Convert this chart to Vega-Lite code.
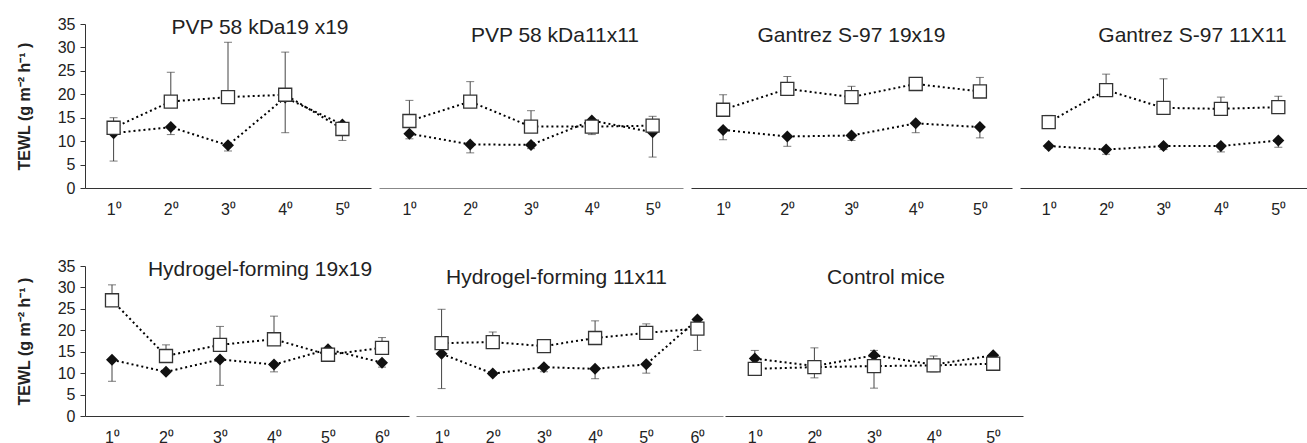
{
  "$schema": "https://vega.github.io/schema/vega-lite/v6.json",
  "padding": {"left": 16, "top": 16, "right": 0, "bottom": 0},
  "config": {
    "font": "Liberation Sans",
    "view": {"stroke": null},
    "axis": {"grid": false, "labelFont": "Liberation Sans", "labelColor": "#222", "domainColor": "#333", "tickColor": "#333"},
    "title": {"font": "Liberation Sans", "fontSize": 21, "fontWeight": "normal", "color": "#222", "anchor": "middle", "baseline": "bottom", "offset": -22}
  },
  "datasets": {
    "d": [
      {"p":"P1","day":"1⁰","s":"A","v":11.7,"e":5.75},
      {"p":"P1","day":"2⁰","s":"A","v":13.0,"e":11.4},
      {"p":"P1","day":"3⁰","s":"A","v":9.1,"e":7.9},
      {"p":"P1","day":"4⁰","s":"A","v":19.3,"e":11.8},
      {"p":"P1","day":"5⁰","s":"A","v":13.55,"e":10.15},
      {"p":"P1","day":"1⁰","s":"B","v":12.85,"e":15.0},
      {"p":"P1","day":"2⁰","s":"B","v":18.45,"e":24.7},
      {"p":"P1","day":"3⁰","s":"B","v":19.4,"e":31.1},
      {"p":"P1","day":"4⁰","s":"B","v":19.9,"e":29.0},
      {"p":"P1","day":"5⁰","s":"B","v":12.6,"e":13.4},
      {"p":"P2","day":"1⁰","s":"A","v":11.6,"e":10.5},
      {"p":"P2","day":"2⁰","s":"A","v":9.3,"e":7.5},
      {"p":"P2","day":"3⁰","s":"A","v":9.2,"e":8.4},
      {"p":"P2","day":"4⁰","s":"A","v":14.4,"e":11.4},
      {"p":"P2","day":"5⁰","s":"A","v":11.9,"e":6.6},
      {"p":"P2","day":"1⁰","s":"B","v":14.3,"e":18.7},
      {"p":"P2","day":"2⁰","s":"B","v":18.45,"e":22.7},
      {"p":"P2","day":"3⁰","s":"B","v":13.1,"e":16.5},
      {"p":"P2","day":"4⁰","s":"B","v":13.1,"e":14.0},
      {"p":"P2","day":"5⁰","s":"B","v":13.3,"e":15.3},
      {"p":"P3","day":"1⁰","s":"A","v":12.4,"e":10.3},
      {"p":"P3","day":"2⁰","s":"A","v":11.0,"e":8.9},
      {"p":"P3","day":"3⁰","s":"A","v":11.2,"e":10.15},
      {"p":"P3","day":"4⁰","s":"A","v":13.8,"e":11.8},
      {"p":"P3","day":"5⁰","s":"A","v":13.0,"e":10.7},
      {"p":"P3","day":"1⁰","s":"B","v":16.7,"e":19.9},
      {"p":"P3","day":"2⁰","s":"B","v":21.15,"e":23.8},
      {"p":"P3","day":"3⁰","s":"B","v":19.4,"e":21.7},
      {"p":"P3","day":"4⁰","s":"B","v":22.2,"e":22.4},
      {"p":"P3","day":"5⁰","s":"B","v":20.6,"e":23.6},
      {"p":"P4","day":"1⁰","s":"A","v":8.95,"e":8.5},
      {"p":"P4","day":"2⁰","s":"A","v":8.2,"e":7.2},
      {"p":"P4","day":"3⁰","s":"A","v":8.95,"e":8.2},
      {"p":"P4","day":"4⁰","s":"A","v":8.95,"e":7.7},
      {"p":"P4","day":"5⁰","s":"A","v":10.15,"e":8.7},
      {"p":"P4","day":"1⁰","s":"B","v":14.05,"e":15.5},
      {"p":"P4","day":"2⁰","s":"B","v":20.9,"e":24.3},
      {"p":"P4","day":"3⁰","s":"B","v":17.1,"e":23.3},
      {"p":"P4","day":"4⁰","s":"B","v":16.9,"e":19.4},
      {"p":"P4","day":"5⁰","s":"B","v":17.25,"e":19.6},
      {"p":"P5","day":"1⁰","s":"A","v":13.1,"e":8.1},
      {"p":"P5","day":"2⁰","s":"A","v":10.3,"e":10.0},
      {"p":"P5","day":"3⁰","s":"A","v":13.2,"e":7.15},
      {"p":"P5","day":"4⁰","s":"A","v":12.0,"e":10.3},
      {"p":"P5","day":"5⁰","s":"A","v":15.55,"e":15.0},
      {"p":"P5","day":"6⁰","s":"A","v":12.45,"e":11.4},
      {"p":"P5","day":"1⁰","s":"B","v":27.0,"e":30.6},
      {"p":"P5","day":"2⁰","s":"B","v":14.0,"e":16.6},
      {"p":"P5","day":"3⁰","s":"B","v":16.6,"e":20.9},
      {"p":"P5","day":"4⁰","s":"B","v":17.9,"e":23.3},
      {"p":"P5","day":"5⁰","s":"B","v":14.3,"e":14.8},
      {"p":"P5","day":"6⁰","s":"B","v":15.9,"e":18.3},
      {"p":"P6","day":"1⁰","s":"A","v":14.5,"e":6.4},
      {"p":"P6","day":"2⁰","s":"A","v":9.9,"e":9.5},
      {"p":"P6","day":"3⁰","s":"A","v":11.4,"e":10.3},
      {"p":"P6","day":"4⁰","s":"A","v":11.0,"e":8.7},
      {"p":"P6","day":"5⁰","s":"A","v":12.05,"e":10.0},
      {"p":"P6","day":"6⁰","s":"A","v":22.5,"e":15.3},
      {"p":"P6","day":"1⁰","s":"B","v":17.0,"e":24.9},
      {"p":"P6","day":"2⁰","s":"B","v":17.25,"e":19.6},
      {"p":"P6","day":"3⁰","s":"B","v":16.3,"e":16.8},
      {"p":"P6","day":"4⁰","s":"B","v":18.2,"e":22.2},
      {"p":"P6","day":"5⁰","s":"B","v":19.4,"e":21.5},
      {"p":"P6","day":"6⁰","s":"B","v":20.4,"e":20.8},
      {"p":"P7","day":"1⁰","s":"A","v":13.4,"e":12.5},
      {"p":"P7","day":"2⁰","s":"A","v":11.65,"e":8.9},
      {"p":"P7","day":"3⁰","s":"A","v":14.15,"e":6.5},
      {"p":"P7","day":"4⁰","s":"A","v":12.0,"e":10.3},
      {"p":"P7","day":"5⁰","s":"A","v":14.15,"e":13.5},
      {"p":"P7","day":"1⁰","s":"B","v":11.0,"e":15.3},
      {"p":"P7","day":"2⁰","s":"B","v":11.4,"e":15.9},
      {"p":"P7","day":"3⁰","s":"B","v":11.65,"e":15.3},
      {"p":"P7","day":"4⁰","s":"B","v":11.8,"e":14.0},
      {"p":"P7","day":"5⁰","s":"B","v":12.2,"e":13.0}
    ]
  },
  "spacing": 41,
  "vconcat": [
    {
      "spacing": 8,
      "hconcat": [
        {
          "width": 286, "height": 164,
          "title": {"text": "PVP 58 kDa19 x19", "dx": 32},
          "data": {"name": "d"},
          "transform": [{"filter": "datum.p == 'P1'"}],
          "encoding": {
            "x": {"field": "day", "type": "ordinal", "scale": {"type": "point", "padding": 0.5}, "axis": {"title": null, "ticks": false, "labelAngle": 0, "labelFontSize": 16, "labelPadding": 13, "domainColor": "#333"}},
            "y": {"field": "v", "type": "quantitative", "scale": {"domain": [0, 35], "nice": false}, "axis": {"values": [0,5,10,15,20,25,30,35], "tickSize": 5, "labelFontSize": 16, "labelPadding": 5, "title": "TEWL (g m⁻² h⁻¹ )", "titleFontSize": 16, "titleFontWeight": "bold", "titleColor": "#222", "titlePadding": 25}}
          },
          "layer": [
            {"mark": {"type": "line", "color": "black", "strokeWidth": 2, "strokeDash": [2, 3]}, "encoding": {"detail": {"field": "s"}}},
            {"mark": {"type": "rule", "color": "#444", "strokeWidth": 1}, "encoding": {"y2": {"field": "e"}}},
            {"mark": {"type": "tick", "color": "#444", "size": 8, "thickness": 1}, "encoding": {"y": {"field": "e", "type": "quantitative"}}},
            {"transform": [{"filter": "datum.s == 'A'"}], "mark": {"type": "point", "shape": "diamond", "filled": true, "color": "#111", "size": 144, "opacity": 1}},
            {"transform": [{"filter": "datum.s == 'B'"}], "mark": {"type": "point", "shape": "square", "filled": true, "fill": "white", "stroke": "#333", "strokeWidth": 1.3, "size": 170, "opacity": 1}}
          ]
        },
        {
          "width": 304, "height": 164,
          "title": {"text": "PVP 58 kDa11x11", "dx": 24},
          "data": {"name": "d"},
          "transform": [{"filter": "datum.p == 'P2'"}],
          "encoding": {
            "x": {"field": "day", "type": "ordinal", "scale": {"type": "point", "padding": 0.5}, "axis": {"title": null, "ticks": false, "labelAngle": 0, "labelFontSize": 16, "labelPadding": 13, "domainColor": "#888"}},
            "y": {"field": "v", "type": "quantitative", "scale": {"domain": [0, 35], "nice": false}, "axis": null}
          },
          "layer": [
            {"mark": {"type": "line", "color": "black", "strokeWidth": 2, "strokeDash": [2, 3]}, "encoding": {"detail": {"field": "s"}}},
            {"mark": {"type": "rule", "color": "#444", "strokeWidth": 1}, "encoding": {"y2": {"field": "e"}}},
            {"mark": {"type": "tick", "color": "#444", "size": 8, "thickness": 1}, "encoding": {"y": {"field": "e", "type": "quantitative"}}},
            {"transform": [{"filter": "datum.s == 'A'"}], "mark": {"type": "point", "shape": "diamond", "filled": true, "color": "#111", "size": 144, "opacity": 1}},
            {"transform": [{"filter": "datum.s == 'B'"}], "mark": {"type": "point", "shape": "square", "filled": true, "fill": "white", "stroke": "#333", "strokeWidth": 1.3, "size": 170, "opacity": 1}}
          ]
        },
        {
          "width": 321, "height": 164,
          "title": {"text": "Gantrez S-97 19x19", "dx": 0},
          "data": {"name": "d"},
          "transform": [{"filter": "datum.p == 'P3'"}],
          "encoding": {
            "x": {"field": "day", "type": "ordinal", "scale": {"type": "point", "padding": 0.5}, "axis": {"title": null, "ticks": false, "labelAngle": 0, "labelFontSize": 16, "labelPadding": 13, "domainColor": "#333"}},
            "y": {"field": "v", "type": "quantitative", "scale": {"domain": [0, 35], "nice": false}, "axis": null}
          },
          "layer": [
            {"mark": {"type": "line", "color": "black", "strokeWidth": 2, "strokeDash": [2, 3]}, "encoding": {"detail": {"field": "s"}}},
            {"mark": {"type": "rule", "color": "#444", "strokeWidth": 1}, "encoding": {"y2": {"field": "e"}}},
            {"mark": {"type": "tick", "color": "#444", "size": 8, "thickness": 1}, "encoding": {"y": {"field": "e", "type": "quantitative"}}},
            {"transform": [{"filter": "datum.s == 'A'"}], "mark": {"type": "point", "shape": "diamond", "filled": true, "color": "#111", "size": 144, "opacity": 1}},
            {"transform": [{"filter": "datum.s == 'B'"}], "mark": {"type": "point", "shape": "square", "filled": true, "fill": "white", "stroke": "#333", "strokeWidth": 1.3, "size": 170, "opacity": 1}}
          ]
        },
        {
          "width": 287, "height": 164,
          "title": {"text": "Gantrez S-97 11X11", "dx": 29},
          "data": {"name": "d"},
          "transform": [{"filter": "datum.p == 'P4'"}],
          "encoding": {
            "x": {"field": "day", "type": "ordinal", "scale": {"type": "point", "padding": 0.5}, "axis": {"title": null, "ticks": false, "labelAngle": 0, "labelFontSize": 16, "labelPadding": 13, "domainColor": "#333"}},
            "y": {"field": "v", "type": "quantitative", "scale": {"domain": [0, 35], "nice": false}, "axis": null}
          },
          "layer": [
            {"mark": {"type": "line", "color": "black", "strokeWidth": 2, "strokeDash": [2, 3]}, "encoding": {"detail": {"field": "s"}}},
            {"mark": {"type": "rule", "color": "#444", "strokeWidth": 1}, "encoding": {"y2": {"field": "e"}}},
            {"mark": {"type": "tick", "color": "#444", "size": 8, "thickness": 1}, "encoding": {"y": {"field": "e", "type": "quantitative"}}},
            {"transform": [{"filter": "datum.s == 'A'"}], "mark": {"type": "point", "shape": "diamond", "filled": true, "color": "#111", "size": 144, "opacity": 1}},
            {"transform": [{"filter": "datum.s == 'B'"}], "mark": {"type": "point", "shape": "square", "filled": true, "fill": "white", "stroke": "#333", "strokeWidth": 1.3, "size": 170, "opacity": 1}}
          ]
        }
      ]
    },
    {
      "spacing": 2,
      "hconcat": [
        {
          "spacing": 7,
          "hconcat": [
            {
              "width": 324, "height": 150,
              "title": {"text": "Hydrogel-forming 19x19", "dx": 13},
              "data": {"name": "d"},
              "transform": [{"filter": "datum.p == 'P5'"}],
              "encoding": {
                "x": {"field": "day", "type": "ordinal", "scale": {"type": "point", "padding": 0.5}, "axis": {"title": null, "ticks": false, "labelAngle": 0, "labelFontSize": 16, "labelPadding": 13, "domainColor": "#333"}},
                "y": {"field": "v", "type": "quantitative", "scale": {"domain": [0, 35], "nice": false}, "axis": {"values": [0,5,10,15,20,25,30,35], "tickSize": 5, "labelFontSize": 16, "labelPadding": 5, "title": "TEWL (g m⁻² h⁻¹ )", "titleFontSize": 16, "titleFontWeight": "bold", "titleColor": "#222", "titlePadding": 25}}
              },
              "layer": [
                {"mark": {"type": "line", "color": "black", "strokeWidth": 2, "strokeDash": [2, 3]}, "encoding": {"detail": {"field": "s"}}},
                {"mark": {"type": "rule", "color": "#444", "strokeWidth": 1}, "encoding": {"y2": {"field": "e"}}},
                {"mark": {"type": "tick", "color": "#444", "size": 8, "thickness": 1}, "encoding": {"y": {"field": "e", "type": "quantitative"}}},
                {"transform": [{"filter": "datum.s == 'A'"}], "mark": {"type": "point", "shape": "diamond", "filled": true, "color": "#111", "size": 144, "opacity": 1}},
                {"transform": [{"filter": "datum.s == 'B'"}], "mark": {"type": "point", "shape": "square", "filled": true, "fill": "white", "stroke": "#333", "strokeWidth": 1.3, "size": 170, "opacity": 1}}
              ]
            },
            {
              "width": 307, "height": 150,
              "title": {"text": "Hydrogel-forming 11x11", "dx": -13},
              "data": {"name": "d"},
              "transform": [{"filter": "datum.p == 'P6'"}],
              "encoding": {
                "x": {"field": "day", "type": "ordinal", "scale": {"type": "point", "padding": 0.5}, "axis": {"title": null, "ticks": false, "labelAngle": 0, "labelFontSize": 16, "labelPadding": 13, "domainColor": "#888"}},
                "y": {"field": "v", "type": "quantitative", "scale": {"domain": [0, 35], "nice": false}, "axis": null}
              },
              "layer": [
                {"mark": {"type": "line", "color": "black", "strokeWidth": 2, "strokeDash": [2, 3]}, "encoding": {"detail": {"field": "s"}}},
                {"mark": {"type": "rule", "color": "#444", "strokeWidth": 1}, "encoding": {"y2": {"field": "e"}}},
                {"mark": {"type": "tick", "color": "#444", "size": 8, "thickness": 1}, "encoding": {"y": {"field": "e", "type": "quantitative"}}},
                {"transform": [{"filter": "datum.s == 'A'"}], "mark": {"type": "point", "shape": "diamond", "filled": true, "color": "#111", "size": 144, "opacity": 1}},
                {"transform": [{"filter": "datum.s == 'B'"}], "mark": {"type": "point", "shape": "square", "filled": true, "fill": "white", "stroke": "#333", "strokeWidth": 1.3, "size": 170, "opacity": 1}}
              ]
            }
          ]
        },
        {
          "width": 298, "height": 150,
          "title": {"text": "Control mice", "dx": 12},
          "data": {"name": "d"},
          "transform": [{"filter": "datum.p == 'P7'"}],
          "encoding": {
            "x": {"field": "day", "type": "ordinal", "scale": {"type": "point", "padding": 0.5}, "axis": {"title": null, "ticks": false, "labelAngle": 0, "labelFontSize": 16, "labelPadding": 13, "domainColor": "#333"}},
            "y": {"field": "v", "type": "quantitative", "scale": {"domain": [0, 35], "nice": false}, "axis": null}
          },
          "layer": [
            {"mark": {"type": "line", "color": "black", "strokeWidth": 2, "strokeDash": [2, 3]}, "encoding": {"detail": {"field": "s"}}},
            {"mark": {"type": "rule", "color": "#444", "strokeWidth": 1}, "encoding": {"y2": {"field": "e"}}},
            {"mark": {"type": "tick", "color": "#444", "size": 8, "thickness": 1}, "encoding": {"y": {"field": "e", "type": "quantitative"}}},
            {"transform": [{"filter": "datum.s == 'A'"}], "mark": {"type": "point", "shape": "diamond", "filled": true, "color": "#111", "size": 144, "opacity": 1}},
            {"transform": [{"filter": "datum.s == 'B'"}], "mark": {"type": "point", "shape": "square", "filled": true, "fill": "white", "stroke": "#333", "strokeWidth": 1.3, "size": 170, "opacity": 1}}
          ]
        }
      ]
    }
  ]
}
